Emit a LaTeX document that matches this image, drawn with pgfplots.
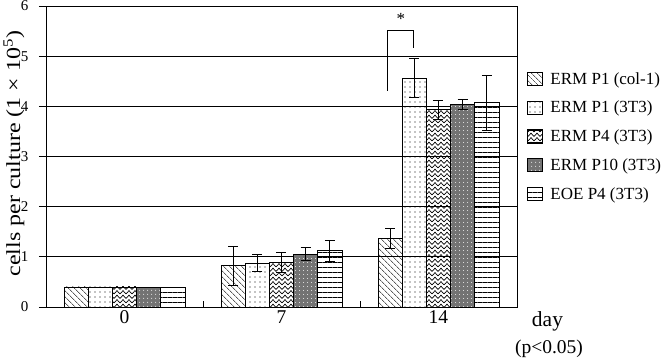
\documentclass[border=0pt]{standalone}
\usepackage{pgfplots}
\pgfplotsset{compat=1.18}
\usepackage{pgfplotstable}
\usepackage{fontspec}
\setmainfont{Liberation Serif}
\usetikzlibrary{patterns,patterns.meta}

\pgfdeclarepatternformonly{zigzag}{\pgfqpoint{-1pt}{-1pt}}{\pgfqpoint{7pt}{6pt}}{\pgfqpoint{6pt}{4.5pt}}{%
  \pgfsetlinewidth{0.7pt}%
  \pgfpathmoveto{\pgfqpoint{0pt}{0.6pt}}%
  \pgfpathlineto{\pgfqpoint{3pt}{3.8pt}}%
  \pgfpathlineto{\pgfqpoint{6pt}{0.6pt}}%
  \pgfusepath{stroke}}

% day 0 (no error bars drawn)
\pgfplotstableread{
x A B C D E
0 0.40 0.40 0.40 0.40 0.40
}\dayzero

% days 7 and 14 (mean and error)
\pgfplotstableread{
x y e
1 0.82 0.39
2 1.37 0.20
}\sA
\pgfplotstableread{
x y e
1 0.87 0.17
2 4.56 0.39
}\sB
\pgfplotstableread{
x y e
1 0.89 0.20
2 3.93 0.19
}\sC
\pgfplotstableread{
x y e
1 1.05 0.13
2 4.04 0.10
}\sD
\pgfplotstableread{
x y e
1 1.12 0.21
2 4.07 0.55
}\sE

\tikzset{
  stA/.style={draw=black, line width=0.8pt, pattern={Lines[angle=-45,distance=4pt,line width=0.6pt]}},
  stB/.style={draw=black, line width=0.8pt, pattern={Dots[distance=5pt,radius=0.55pt]}},
  stC/.style={draw=black, line width=0.8pt, pattern=zigzag},
  stD/.style={draw=black, line width=0.8pt, fill=black!55,
    postaction={pattern={Dots[distance=4pt,radius=0.6pt]}, pattern color=white}},
  stE/.style={draw=black, line width=0.8pt, pattern={Lines[angle=0,distance=5pt,line width=0.7pt]}},
}

\begin{document}
\begin{tikzpicture}
\begin{axis}[
  at={(0pt,0pt)}, anchor=south west,
  scale only axis, width=471pt, height=301pt,
  ybar, bar width=0.154,
  xmin=-0.5, xmax=2.5, ymin=0, ymax=6,
  xtick={0,1,2}, xticklabels={0,7,14},
  minor xtick={0.5,1.5},
  ytick={0,1,...,6},
  xtick pos=bottom, ytick pos=left,
  xtick align=inside, ytick align=outside,
  major x tick style={draw=none},
  minor tick length=6pt,
  major tick length=7pt,
  tick style={black, line width=0.8pt},
  ymajorgrids,
  major grid style={black, line width=0.7pt},
  axis line style={black, line width=0.9pt},
  /pgf/number format/assume math mode=true,
  xticklabel style={font=\fontsize{19.5}{19.5}\selectfont},
  yticklabel style={font=\fontsize{15}{15}\selectfont, xshift=-7pt},
  error bars/y dir=both, error bars/y explicit,
  error bars/error bar style={black, line width=1pt},
  error bars/error mark options={rotate=90, mark size=5pt, black, line width=1pt},
  legend image code/.code={\draw[#1, line width=1.3pt] (0pt,-6.5pt) rectangle (15pt,6.5pt);},
  legend cell align=left,
  legend style={at={(axis description cs:1.0212,0.787)}, anchor=north west,
    draw=none, fill=none, inner sep=0pt, row sep=11.5pt,
    font=\fontsize{17}{17}\selectfont,
    /tikz/every odd column/.append style={column sep=5pt}},
]
\addplot[stA, bar shift=-0.308] table[x=x, y=y, y error=e]{\sA};
\addlegendentry{ERM P1 (col-1)}
\addplot[stB, bar shift=-0.154] table[x=x, y=y, y error=e]{\sB};
\addlegendentry{ERM P1 (3T3)}
\addplot[stC, bar shift=0] table[x=x, y=y, y error=e]{\sC};
\addlegendentry{ERM P4 (3T3)}
\addplot[stD, bar shift=0.154] table[x=x, y=y, y error=e]{\sD};
\addlegendentry{ERM P10 (3T3)}
\addplot[stE, bar shift=0.308] table[x=x, y=y, y error=e]{\sE};
\addlegendentry{EOE P4 (3T3)}
\addplot[stA, bar shift=-0.308, forget plot, error bars/y dir=none] table[x=x, y=A]{\dayzero};
\addplot[stB, bar shift=-0.154, forget plot, error bars/y dir=none] table[x=x, y=B]{\dayzero};
\addplot[stC, bar shift=0, forget plot, error bars/y dir=none] table[x=x, y=C]{\dayzero};
\addplot[stD, bar shift=0.154, forget plot, error bars/y dir=none] table[x=x, y=D]{\dayzero};
\addplot[stE, bar shift=0.308, forget plot, error bars/y dir=none] table[x=x, y=E]{\dayzero};
\draw[black, line width=1pt] (axis cs:1.678,4.31) -- (axis cs:1.678,5.51) -- (axis cs:1.84,5.51) -- (axis cs:1.84,5.17);
\node[font=\fontsize{17}{17}\selectfont] at (axis cs:1.76,5.74) {*};
\end{axis}
\node[rotate=90, font=\fontsize{20}{20}\selectfont] at (-32pt,153.5pt)
  {\scalebox{1.2}[1]{cells per culture (1 × 10\textsuperscript{5})}};
\node[font=\fontsize{21.5}{21.5}\selectfont] at (501.5pt,-14pt) {day};
\node[font=\fontsize{19.5}{19.5}\selectfont] at (503pt,-42pt) {(p<0.05)};
\pgfresetboundingbox
\path[use as bounding box] (-46pt,-55pt) rectangle (619pt,307pt);
\end{tikzpicture}
\end{document}
